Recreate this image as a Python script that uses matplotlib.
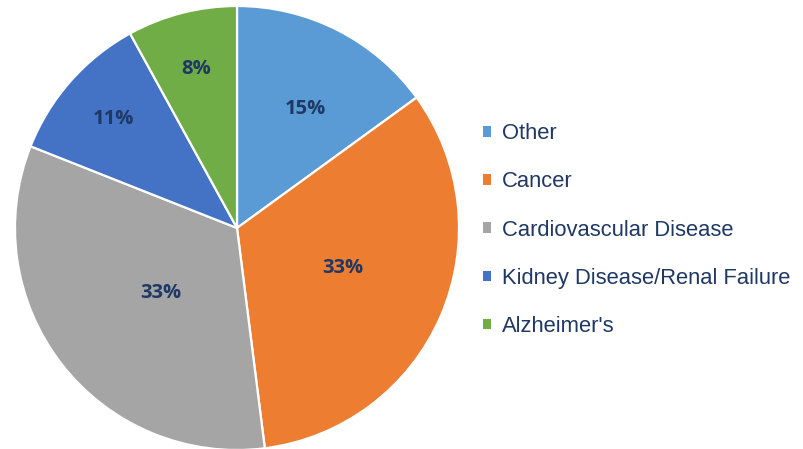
import matplotlib
matplotlib.use("Agg")
import matplotlib.pyplot as plt
from matplotlib.patches import Patch
import numpy as np

categories = ["Other", "Cancer", "Cardiovascular Disease", "Kidney Disease/Renal Failure", "Alzheimer's"]
values = [15, 33, 33, 11, 8]
colors = ["#5B9BD5", "#ED7D31", "#A5A5A5", "#4472C4", "#70AD47"]
label_dist = [0.62, 0.51, 0.45, 0.74, 0.74]
label_turn = [-3.0, 2.5, 2.5, 0.0, 0.0]

W, H = 804, 449
fig = plt.figure(figsize=(W / 100, H / 100), dpi=100)
cx, cy, r = 237, 228, 222
ax = fig.add_axes([(cx - r) / W, (H - cy - r) / H, 2 * r / W, 2 * r / H])

wedges, _ = ax.pie(values, colors=colors, startangle=90, counterclock=False,
                   wedgeprops=dict(edgecolor="white", linewidth=1.6))
ax.set_xlim(-1, 1)
ax.set_ylim(-1, 1)
ax.set_aspect("equal")

navy = "#1F3864"
for w, v, d, t in zip(wedges, values, label_dist, label_turn):
    ang = np.deg2rad((w.theta1 + w.theta2) / 2 + t)
    ax.text(d * np.cos(ang), d * np.sin(ang), f"{v}%", ha="center", va="center",
            fontsize=14.5, fontweight="bold", color=navy, family="Open Sans")

handles = [Patch(facecolor=c, edgecolor="none") for c in colors]
leg = fig.legend(handles, categories, loc="center left", bbox_to_anchor=(483 / W, 1 - 230 / H),
                 frameon=False, handlelength=0.37, handleheight=0.37,
                 handletextpad=0.5, labelspacing=1.24, borderaxespad=0, borderpad=0,
                 prop={"family": "Liberation Sans", "size": 15.8})
for t in leg.get_texts():
    t.set_color(navy)

fig.savefig("out.png", dpi=100)
